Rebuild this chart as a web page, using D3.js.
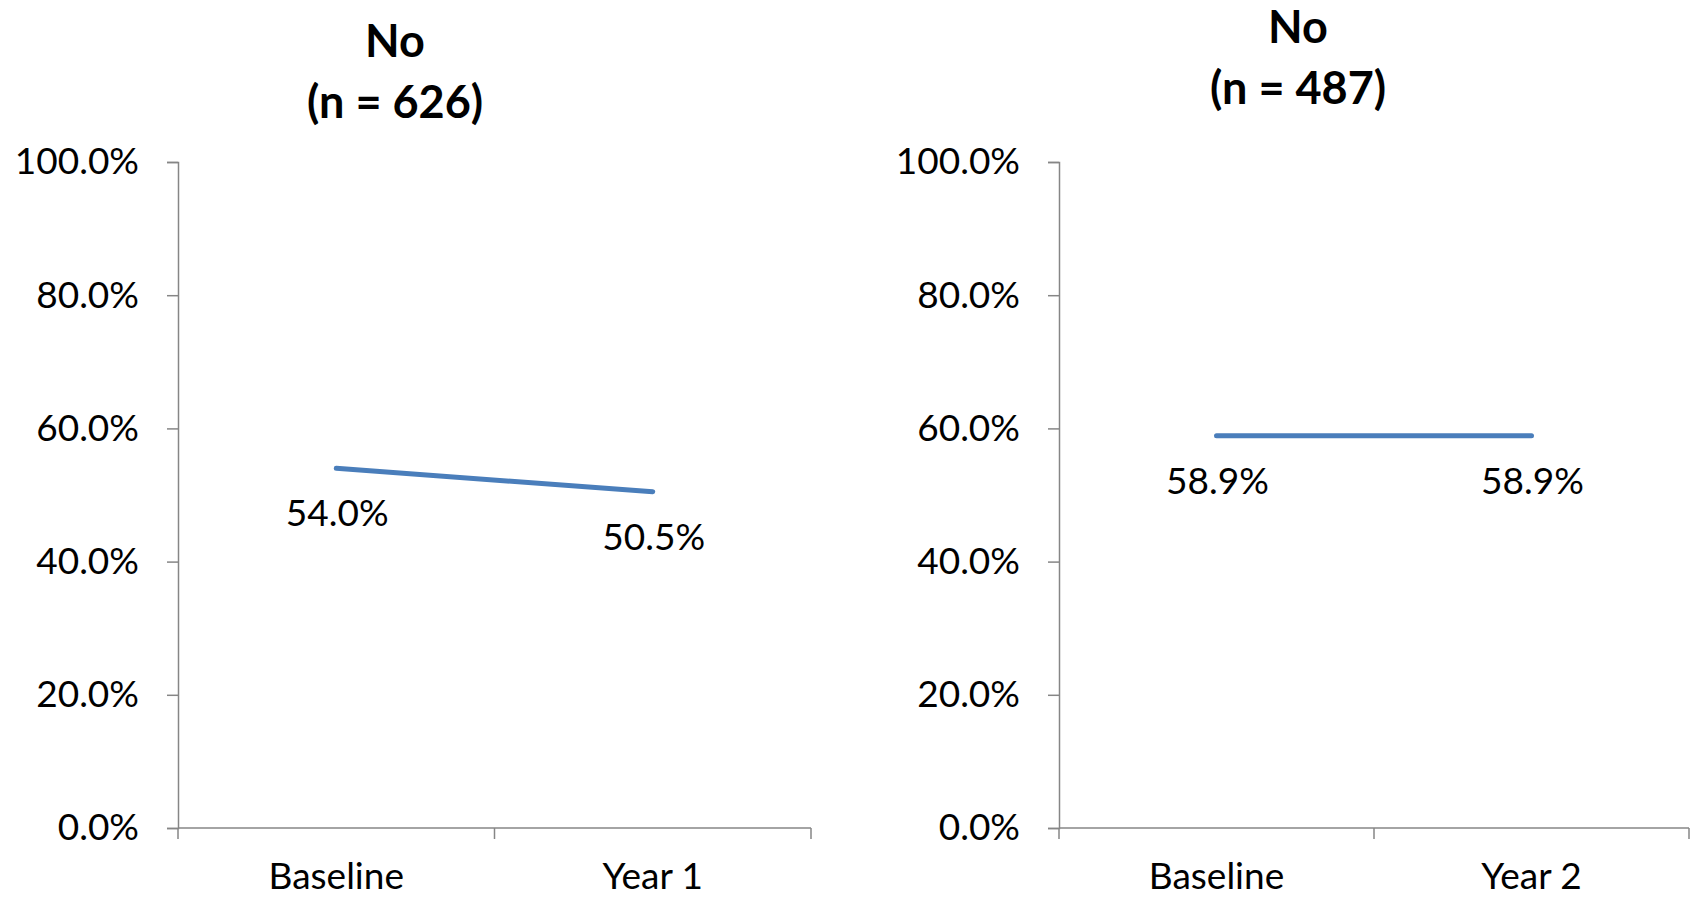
<!DOCTYPE html>
<html><head><meta charset="utf-8">
<script src="https://cdn.jsdelivr.net/npm/d3@7"></script>
<style>
html,body{margin:0;padding:0;background:#fff;}
svg text{font-family:Lato,"Open Sans",sans-serif;fill:#000;}
</style></head>
<body><svg id="c" width="1692" height="901"></svg>
<script>
const titles = [["No","(n = 626)"],["No","(n = 487)"]];
const categoriesLeft = ["Baseline","Year 1"];
const categoriesRight = ["Baseline","Year 2"];
const valuesLeft = [0.540, 0.505];
const valuesRight = [0.589, 0.589];
const yTicks = [0,0.2,0.4,0.6,0.8,1.0];

const panels = [
  {cats:categoriesLeft, vals:valuesLeft, title:titles[0], x0:178, x1:811, tx:395, ty:57},
  {cats:categoriesRight, vals:valuesRight, title:titles[1], x0:1059, x1:1689, tx:1298, ty:43}
];
const svg = d3.select("#c");
const yTop=162, yBot=828;
const axisColor="#868686";
const fmt=d3.format(".1%");

panels.forEach(p=>{
  const g=svg.append("g");
  const x=d3.scaleBand().domain(p.cats).range([p.x0,p.x1]).paddingInner(0).paddingOuter(0);
  const y=d3.scaleLinear().domain([0,1]).range([yBot,yTop]);

  // title
  const t=g.append("text").attr("text-anchor","middle").attr("font-weight","bold").attr("font-size",45);
  t.append("tspan").attr("x",p.tx).attr("y",p.ty).text(p.title[0]);
  t.append("tspan").attr("x",p.tx).attr("y",p.ty+61).text(p.title[1]);

  // y axis
  const ya=g.append("g").attr("transform",`translate(${p.x0},0)`)
    .call(d3.axisLeft(y).tickValues(yTicks).tickFormat(fmt).tickSize(11).tickPadding(28));
  ya.select(".domain").attr("stroke",axisColor).attr("stroke-width",1.5);
  ya.selectAll(".tick line").attr("stroke",axisColor).attr("stroke-width",1.5);
  ya.selectAll(".tick text").attr("font-size",37).attr("font-family","Lato, sans-serif").attr("fill","#000");

  // x axis
  const xa=g.append("g");
  xa.append("line").attr("x1",p.x0).attr("x2",p.x1).attr("y1",yBot).attr("y2",yBot)
    .attr("stroke",axisColor).attr("stroke-width",1.5);
  const edges=[...p.cats.map(c=>x(c)), x(p.cats[p.cats.length-1])+x.bandwidth()];
  xa.selectAll("line.tk").data(edges).enter().append("line").attr("class","tk")
    .attr("x1",d=>d).attr("x2",d=>d).attr("y1",yBot).attr("y2",yBot+11)
    .attr("stroke",axisColor).attr("stroke-width",1.5);
  xa.selectAll("text").data(p.cats).enter().append("text")
    .attr("x",d=>x(d)+x.bandwidth()/2).attr("y",889).attr("text-anchor","middle")
    .attr("font-size",37).text(d=>d);

  // line
  const pts=p.cats.map((c,i)=>[x(c)+x.bandwidth()/2, y(p.vals[i])]);
  g.append("path").attr("d",d3.line()(pts)).attr("fill","none")
    .attr("stroke","#4a7ebb").attr("stroke-width",5).attr("stroke-linecap","round");

  // labels
  g.selectAll("text.lbl").data(p.vals).enter().append("text").attr("class","lbl")
    .attr("x",(d,i)=>pts[i][0]+1).attr("y",(d,i)=>pts[i][1]+58).attr("text-anchor","middle")
    .attr("font-size",37).text(d=>fmt(d));
});
</script></body></html>
